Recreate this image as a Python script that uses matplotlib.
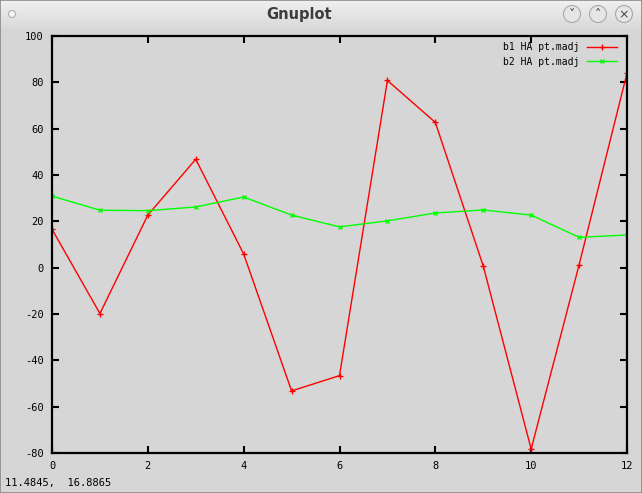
import numpy as np
import matplotlib
matplotlib.use("Agg")
from matplotlib import pyplot as plt
from matplotlib.patches import Circle, Rectangle

x = [0, 1, 2, 3, 4, 5, 6, 7, 8, 9, 10, 11, 12]
b1 = [16.6, -19.8, 22.7, 46.8, 5.9, -53.2, -46.6, 80.8, 62.7, 0.7, -78.3, 1.2, 84.0]
b2 = [30.9, 24.8, 24.6, 26.2, 30.5, 22.7, 17.6, 20.2, 23.6, 24.9, 22.7, 13.1, 14.1]
labels = ["b1 HA pt.madj", "b2 HA pt.madj"]
xticks = [0, 2, 4, 6, 8, 10, 12]
yticks = [-80, -60, -40, -20, 0, 20, 40, 60, 80, 100]
status = "11.4845,  16.8865"

W, H = 642, 493
bg = "#d6d6d6"
mono = "DejaVu Sans Mono"
plt.rcParams["axes.unicode_minus"] = False

fig = plt.figure(figsize=(W / 100, H / 100), dpi=100, facecolor=bg)

# title bar of the window
tb = fig.add_axes([0, 1 - 29 / H, 1, 29 / H])
grad = np.linspace(0, 1, 29)[:, None]
tb.imshow(grad, cmap=matplotlib.colors.LinearSegmentedColormap.from_list("g", ["#f0f0f0", "#d9d9d9"]),
          aspect="auto", extent=[0, W, 29, 0])
tb.set_xlim(0, W)
tb.set_ylim(29, 0)
tb.axis("off")
tb.text(299, 15, "Gnuplot", ha="center", va="center", fontsize=10.5, fontweight="bold",
        color="#3c3c3c", family="DejaVu Sans")
tb.add_patch(Circle((12, 14), 3.5, facecolor="#f8f8f8", edgecolor="#b0b0b0", lw=0.8))
for cx, sym in [(572, "\u02c5"), (598, "\u02c4"), (624, "\u00d7")]:
    tb.add_patch(Circle((cx, 14), 8.5, facecolor="#e6e6e6", edgecolor="#a8a8a8", lw=0.8))
    tb.text(cx, 14.5, sym, ha="center", va="center", fontsize=9, color="#444444")
fig.patches.append(Rectangle((0, 0), 1, 1, transform=fig.transFigure, fill=False,
                             edgecolor="#8a8a8a", lw=1.2))

ax = fig.add_axes([52 / W, (H - 453) / H, (627 - 52) / W, (453 - 36) / H])
ax.set_facecolor(bg)
ax.plot(x, b1, color="#ff0000", lw=1, marker="+", ms=5, mew=1, label=labels[0])
ax.plot(x, b2, color="#00ff00", lw=1, marker="x", ms=3.5, mew=1, label=labels[1])
ax.set_xlim(0, 12)
ax.set_ylim(-80, 100)
ax.set_xticks(xticks)
ax.set_yticks(yticks)
for s in ax.spines.values():
    s.set_linewidth(1.6)
ax.tick_params(direction="in", length=5, width=1.5, top=True, right=True,
               labelsize=7.5, pad=6)
for t in ax.get_xticklabels() + ax.get_yticklabels():
    t.set_family(mono)

ax.legend(loc="upper right", frameon=False, markerfirst=False, handlelength=3.0,
          prop={"family": mono, "size": 7}, bbox_to_anchor=(0.997, 1.006),
          labelspacing=0.45, handletextpad=0.8)

fig.text(5 / W, 1 - 483 / H, status, family=mono, fontsize=7.5, va="center", ha="left")

fig.savefig("out.png", dpi=100, facecolor=bg)
